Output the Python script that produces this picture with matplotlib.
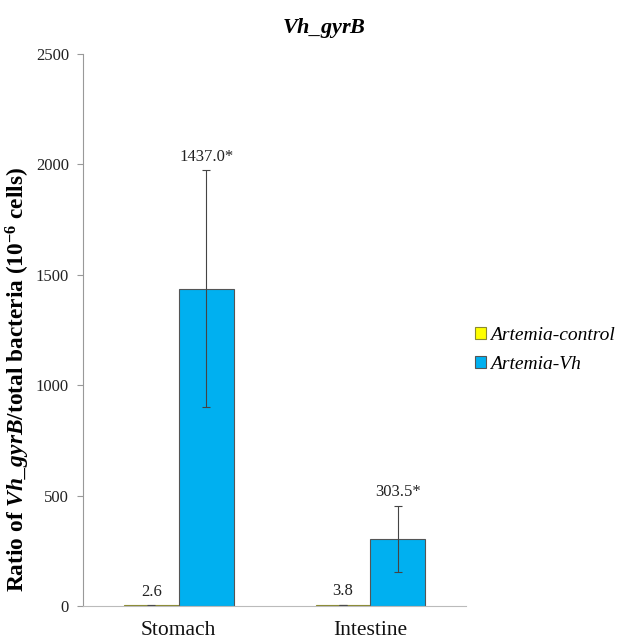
import matplotlib
matplotlib.use("Agg")
import matplotlib.pyplot as plt
import numpy as np

plt.rcParams['font.family'] = ['Liberation Serif', 'DejaVu Serif']
plt.rcParams['mathtext.fontset'] = 'custom'
plt.rcParams['mathtext.rm'] = 'Liberation Serif'
plt.rcParams['mathtext.it'] = 'Liberation Serif:italic'
plt.rcParams['mathtext.bf'] = 'Liberation Serif:bold'
plt.rcParams['mathtext.bfit'] = 'Liberation Serif:bold:italic'

categories = ["Stomach", "Intestine"]
series_names = ["Artemia-control", "Artemia-Vh"]
control_vals = [2.6, 3.8]
control_err = [1.0, 1.0]
vh_vals = [1437.0, 303.5]
vh_err = [537.0, 150.0]
control_labels = ["2.6", "3.8"]
vh_labels = ["1437.0*", "303.5*"]
yticks = [0, 500, 1000, 1500, 2000, 2500]

fig = plt.figure(figsize=(6.19, 6.41), dpi=100)
ax = fig.add_axes([0.134, 0.0546, 0.619, 0.8612])

x = np.arange(len(categories))
w = 0.286
b1 = ax.bar(x - w/2, control_vals, w, color='#FFFF00', edgecolor='#8a8a30', linewidth=0.8,
            yerr=control_err, error_kw=dict(ecolor='#444444', elinewidth=0.8, capsize=3, capthick=0.8),
            label=series_names[0])
b2 = ax.bar(x + w/2, vh_vals, w, color='#00B0F0', edgecolor='#555555', linewidth=0.8,
            yerr=vh_err, error_kw=dict(ecolor='#444444', elinewidth=0.8, capsize=3, capthick=0.8),
            label=series_names[1])

for xi, v, e, t in zip(x - w/2, control_vals, control_err, control_labels):
    ax.text(xi, v + e + 25, t, ha='center', va='bottom', fontsize=12, color='#222222')
for xi, v, e, t in zip(x + w/2, vh_vals, vh_err, vh_labels):
    ax.text(xi, v + e + 25, t, ha='center', va='bottom', fontsize=12, color='#222222')

ax.set_xlim(-0.5, 1.5)
ax.set_ylim(0, 2500)
ax.set_yticks(yticks)
ax.set_yticklabels([str(t) for t in yticks], fontsize=12, color='#222222')
ax.set_xticks(x)
ax.set_xticklabels(categories, fontsize=15.5, color='#111111')
ax.tick_params(axis='x', length=0, pad=11)
ax.tick_params(axis='y', length=4, color='#999999', direction='out', pad=6)
ax.spines['top'].set_visible(False)
ax.spines['right'].set_visible(False)
ax.spines['left'].set_color('#999999')
ax.spines['bottom'].set_color('#bbbbbb')

ax.set_ylabel(r"Ratio of $\mathbfit{Vh\_gyrB}$/total bacteria (10$^{\mathbf{-6}}$ cells)",
              fontsize=16.8, fontweight='bold')
ax.yaxis.set_label_coords(-0.133, 0.41)
fig.text(324/619, 0.956, r"$\mathbfit{Vh\_gyrB}$", fontsize=16, ha='center', va='center')

leg = fig.legend(handles=[b1, b2], labels=series_names, loc='center left',
                 bbox_to_anchor=(0.768, 0.454), frameon=False, borderaxespad=0, borderpad=0,
                 prop={'style': 'italic', 'size': 14}, handlelength=0.55, handleheight=0.55,
                 handletextpad=0.2, labelspacing=0.6)

fig.savefig("out.png", dpi=100)
